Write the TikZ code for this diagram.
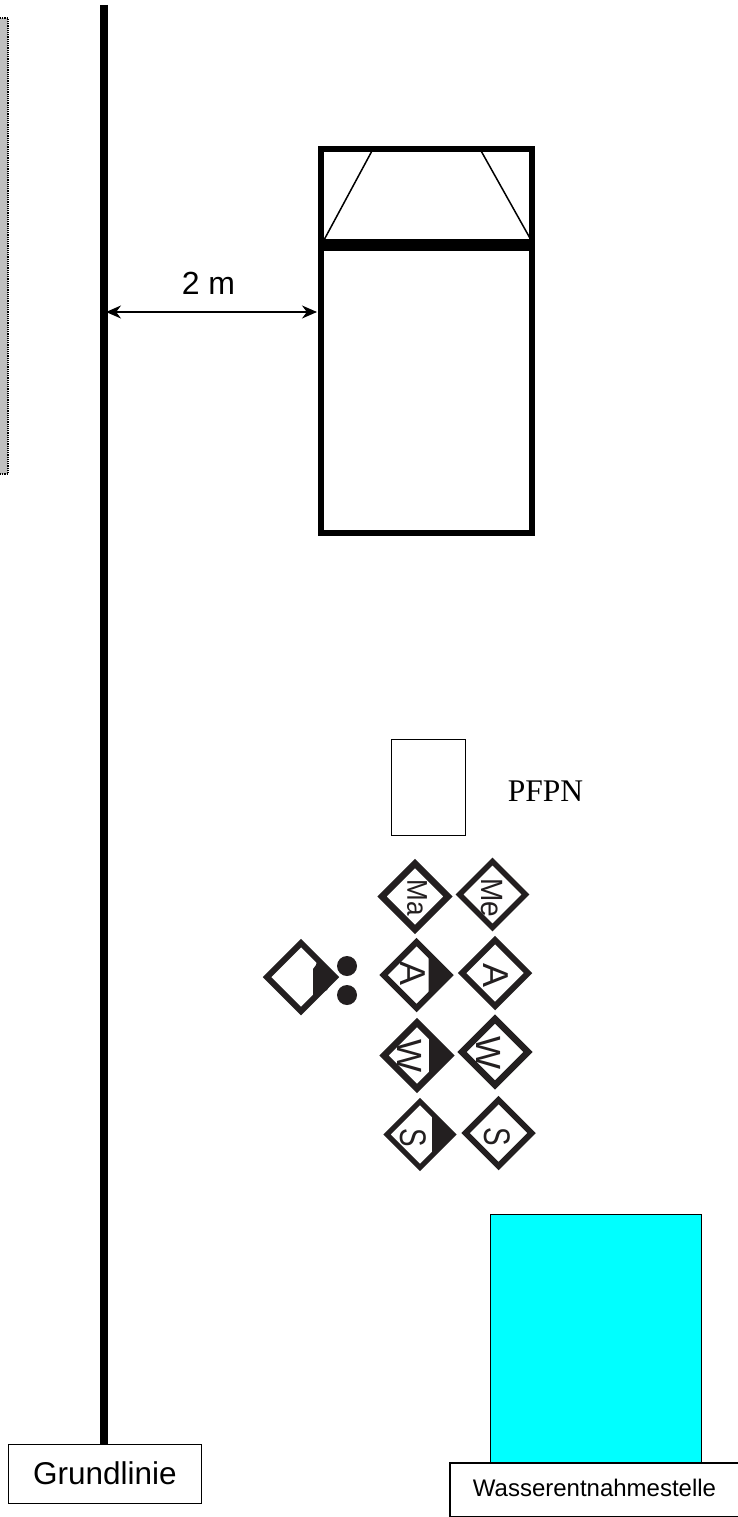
\documentclass[tikz,border=0pt]{standalone}
\usepackage{fontspec}
\setmainfont{Liberation Sans}
\newfontfamily\serifx{Liberation Serif}
\usetikzlibrary{shapes.geometric,arrows.meta,calc}
\definecolor{ink}{HTML}{231F20}
\definecolor{aqua}{RGB}{0,255,255}
\tikzset{
 sign/.style={diamond,draw=ink,line width=#1,minimum width=66pt,minimum height=66pt,inner sep=0pt,outer sep=0pt,fill=white,miter limit=10},
 sign/.default=5.5pt,
 signtext/.style={inner sep=0pt,text=ink,rotate=-90,anchor=center},
 blackpart/.style={fill=ink,draw=none},
 thin box/.style={draw=black,line width=1pt,fill=white,inner sep=0pt,outer sep=0pt},
 thickline/.style={draw=black,line width=8pt},
 dot/.style={circle,fill=ink,minimum size=20pt,inner sep=0pt,outer sep=0pt},
}
\newcommand{\lab}[4]{\scalebox{#2}[#3]{\fontsize{#1pt}{#1pt}\selectfont #4}}
\begin{document}
\begin{tikzpicture}[x=1pt,y=-1pt]
\useasboundingbox (0,0) rectangle (738,1517);
\fill[white] (0,0) rectangle (738,1517);
% left grey strip
\fill[black!25] (0,18) rectangle (8,474);
\draw[black,line width=1.2pt,densely dotted] (0,18) -- (8,18) -- (8,474) -- (0,474);
% cyan basin and label
\node[draw=black,line width=1pt,fill=aqua,minimum width=211pt,minimum height=250pt,inner sep=0pt,outer sep=0pt] (basin) at (595.5,1339) {};
\path[draw=black,line width=1.2pt,fill=white] (738,1463) -- (450,1463) -- (450,1517) -- (738,1517);
\node[inner sep=0pt] (wasser) at (594.5,1488) {\fontsize{24pt}{26pt}\selectfont Wasserentnahmestelle};
% grundlinie
\node[thin box,minimum width=193pt,minimum height=59pt] (grund) at (105,1473.5) {\fontsize{31.5pt}{33pt}\selectfont Grundlinie};
\coordinate (gtop) at (104,5);
\coordinate (gl) at (104,312);
\draw[thickline] (gtop) -- (gtop |- grund.north);
% vehicle
\node[draw=black,line width=6pt,minimum width=211pt,minimum height=384pt,inner sep=0pt,outer sep=0pt] (car) at (426.5,341) {};
\draw[black,line width=1.5pt] (324,240) -- (373,149);
\draw[black,line width=1.5pt] (480,149) -- (531,240);
\draw[black,line width=12pt] (car.west |- 0,245) -- (car.east |- 0,245);
% dimension
\coordinate (cl) at (car.west |- gl);
\draw[black,line width=1.5pt,{Stealth[length=15pt,width=13pt]}-{Stealth[length=15pt,width=13pt]}] ([xshift=2pt]gl) -- ([xshift=-4pt]cl);
\node[inner sep=0pt] (dist) at (208.5,283) {\fontsize{32pt}{34pt}\selectfont 2 m};
% PFPN
\node[thin box,minimum width=74pt,minimum height=96pt] (pfpn) at (428,787) {};
\node[inner sep=0pt] (pfpnt) at (545.5,791) {\serifx\fontsize{31.5pt}{33pt}\selectfont PFPN};
% signs
\node[sign=6.5pt] (ma) at (415,896.5) {};
\node[sign=5.5pt] (me) at (492.5,894.5) {};
\node[sign=6pt] (a1) at (416.5,975) {};
\node[sign=6pt] (a2) at (495,973) {};
\node[sign=6pt,minimum width=68pt,minimum height=68pt] (big) at (301,977) {};
\node[sign=6.5pt] (w1) at (417,1055.5) {};
\node[sign=6.5pt] (w2) at (495,1052) {};
\node[sign=5pt] (s1) at (420,1134.5) {};
\node[sign=6pt] (s2) at (498.5,1133) {};
\foreach \n in {a1,w1,s1}{
 \fill[blackpart] ([xshift=-21pt,yshift=21pt]\n.east) -- (\n.east) -- ([xshift=-21pt,yshift=-21pt]\n.east) -- cycle;
}
\fill[blackpart] ([xshift=-17pt,yshift=20pt]big.east) -- ([xshift=-19pt,yshift=12pt]big.east) -- ([xshift=-22pt,yshift=8pt]big.east) -- ([xshift=-22pt,yshift=-20pt]big.east) -- ([xshift=-8pt,yshift=-13pt]big.east) -- (big.east) -- cycle;
\node[dot] (d1) at (347,966) {};
\node[dot] (d2) at (347,995) {};
\node[signtext] (tma) at (417,898) {\lab{26}{1}{1.1}{Ma}};
\node[signtext] (tme) at (492,898) {\lab{28}{1}{1.1}{Me}};
\node[signtext] (ta1) at (413,973) {\lab{36}{1}{1}{A}};
\node[signtext] (ta2) at (496,975) {\lab{36}{1}{1}{A}};
\node[signtext] (tw1) at (410,1056) {\lab{35}{1}{1}{W}};
\node[signtext] (tw2) at (489,1053) {\lab{35}{1}{1}{W}};
\node[signtext] (ts1) at (413,1138) {\lab{37}{.75}{1}{S}};
\node[signtext] (ts2) at (497,1137) {\lab{37}{.75}{1}{S}};
\end{tikzpicture}
\end{document}
